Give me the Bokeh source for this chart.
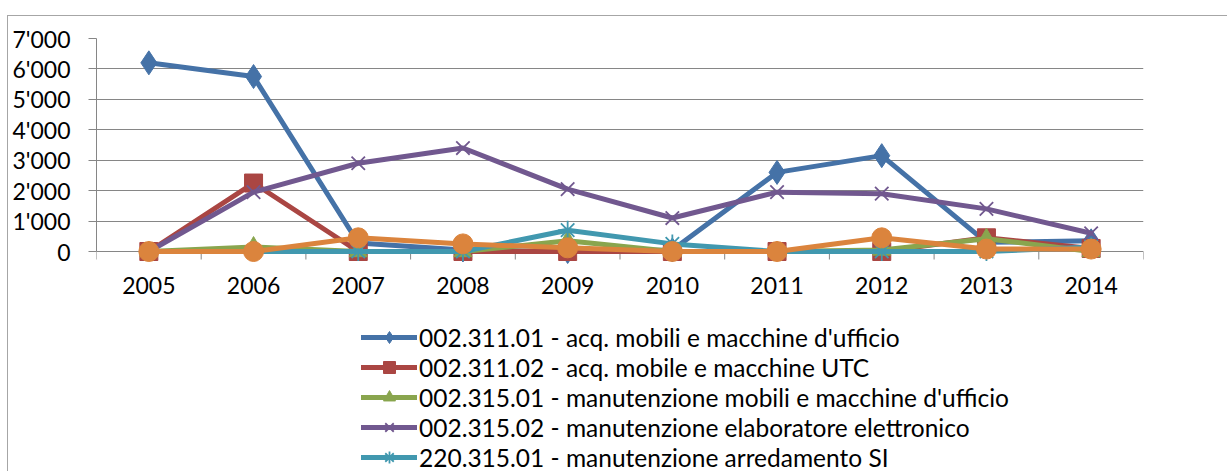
import math
from bokeh.plotting import figure
from bokeh.models import (Range1d, FixedTicker, CustomJSTickFormatter, LinearAxis,
                          Legend, LegendItem, Grid)
from bokeh.core.properties import value
from bokeh.embed import file_html
from bokeh.resources import INLINE

years = ["2005", "2006", "2007", "2008", "2009", "2010", "2011", "2012", "2013", "2014"]
y_ticks = [0, 1000, 2000, 3000, 4000, 5000, 6000, 7000]

labels = [
    "002.311.01 - acq. mobili e macchine d'ufficio",
    "002.311.02 - acq. mobile e macchine UTC",
    "002.315.01 - manutenzione mobili e macchine d'ufficio",
    "002.315.02 - manutenzione elaboratore elettronico",
    "220.315.01 - manutenzione arredamento SI",
    "",
]
s_311_01 = [6200, 5750, 280, 50, 0, 50, 2600, 3150, 300, 350]
s_311_02 = [0, 2250, 0, 0, 0, 0, 0, 0, 450, 100]
s_315_01 = [0, 150, 0, 0, 350, 0, 0, 50, 420, 0]
s_315_02 = [0, 1950, 2900, 3400, 2050, 1100, 1950, 1900, 1400, 600]
s_220_01 = [0, 0, 0, 0, 700, 250, 0, 0, 0, 150]
s_other = [0, 0, 450, 250, 120, 0, 0, 450, 80, 80]

series = [s_311_01, s_311_02, s_315_01, s_315_02, s_220_01, s_other]
colors = ["#4572A7", "#AA4643", "#89A54E", "#71588F", "#4198AF", "#DB843D"]
markers = ["diamond", "square", "triangle", "x", "asterisk", "circle"]
sizes = [24, 18, 18, 19, 19, 20]

xpos = [i + 0.5 for i in range(len(years))]
bounds = list(range(len(years) + 1))
FONT = "Lato"
GRID = "#868686"

# layout (canvas pixels)
W, H = 1220, 456
FR_LEFT, FR_RIGHT, FR_TOP, ZERO_Y = 88, 1135, 22, 235
ymax = y_ticks[-1]
ymin = -(H - ZERO_Y) * ymax / (ZERO_Y - FR_TOP)

p = figure(width=W, height=H, output_backend="svg", toolbar_location=None,
           x_range=Range1d(0, len(years)), y_range=Range1d(ymin, ymax),
           x_axis_type=None, y_axis_type=None,
           min_border_left=FR_LEFT, min_border_right=W - FR_RIGHT, min_border_top=FR_TOP,
           min_border_bottom=0)
p.outline_line_color = None
p.background_fill_color = "white"
p.border_fill_color = "white"
p.styles = {"margin-top": "15px", "margin-left": "7px",
            "border-top": "1px solid #a6a6a6", "border-left": "1px solid #a6a6a6"}

yticker = FixedTicker(ticks=y_ticks, minor_ticks=[])
yaxis = LinearAxis(ticker=yticker, bounds=(0, ymax),
                   formatter=CustomJSTickFormatter(code="return Math.round(tick).toString().replace(/\\B(?=(\\d{3})+(?!\\d))/g, \"'\")"),
                   major_tick_out=8, major_tick_in=0, minor_tick_out=0, minor_tick_in=0,
                   axis_line_color=GRID, major_tick_line_color=GRID,
                   major_label_standoff=18, major_label_text_font=FONT,
                   major_label_text_font_size="23px", major_label_text_color="black")
p.add_layout(yaxis, "left")

p.add_layout(Grid(dimension=1, ticker=yticker, grid_line_color=GRID, grid_line_width=1))

# category tick marks between years and year labels
p.ray(x=bounds, y=[0] * len(bounds), length=8, length_units="screen",
      angle=-math.pi / 2, line_color=GRID, line_width=1)
p.text(x=xpos, y=[0] * len(xpos), text=years, text_align="center",
       text_baseline="alphabetic", y_offset=34, text_font=value(FONT),
       text_font_size="23px", text_color="black")

items = []
for i, (vals, c, m, s) in enumerate(zip(series, colors, markers, sizes)):
    rl = p.line(xpos, vals, line_color=c, line_width=5, line_join="round", line_cap="round")
    lw = 1.8 if m in ("x", "asterisk") else 1
    rs = p.scatter(xpos, vals, marker=m, size=s, fill_color=c, line_color=c, line_width=lw)
    if labels[i]:
        items.append(LegendItem(label=labels[i], renderers=[rl, rs]))

legend = Legend(items=items, location=(361 - 8 - FR_LEFT, 0), orientation="vertical",
                label_text_font=FONT, label_text_font_size="24.5px", label_text_color="black",
                glyph_width=56, glyph_height=30, label_height=30, label_standoff=2,
                spacing=0, padding=0, margin=0, border_line_color=None,
                background_fill_alpha=0)
p.add_layout(legend, "center")

open("out.html", "w").write(file_html(p, INLINE))
